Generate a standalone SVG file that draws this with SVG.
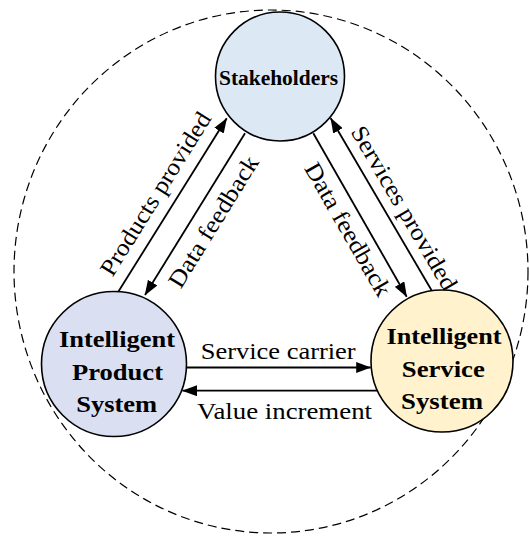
<svg xmlns="http://www.w3.org/2000/svg" width="530" height="536" viewBox="0 0 530 536">
  <style>
    .node { stroke: #000; stroke-width: 1.6; }
    .ntext { font-family: "Liberation Serif", "Times New Roman", serif; font-weight: bold; font-size: 24px; fill: #000; text-anchor: middle; }
    .ltext { font-family: "Liberation Serif", "Times New Roman", serif; font-size: 24px; fill: #000; text-anchor: middle; }
    .conn { stroke: #000; stroke-width: 1.8; fill: none; marker-end: url(#arrow); }
  </style>
  <defs>
    <marker id="arrow" markerUnits="userSpaceOnUse" markerWidth="15" markerHeight="11" refX="14.5" refY="5.5" orient="auto">
      <path d="M0,0 L15,5.5 L0,11 z" fill="#000"/>
    </marker>
  </defs>
  <rect width="530" height="536" fill="#fff"/>
  <ellipse id="boundary" cx="271" cy="271.5" rx="257" ry="261.5" fill="none" stroke="#000" stroke-width="1.2" stroke-dasharray="9 5"/>

  <g id="connectors">
    <path class="conn" d="M118.3,291.7 L226.7,118.3"/>
    <path class="conn" d="M245,133.3 L145,295"/>
    <path class="conn" d="M313.3,133.3 L406.7,296.7"/>
    <path class="conn" d="M433.3,293.3 L330.7,118.3"/>
    <path class="conn" d="M186,367.5 L370.7,367.5"/>
    <path class="conn" d="M377,390.7 L182.5,390.7"/>
    <text class="ltext" x="162.3" y="198" textLength="188" lengthAdjust="spacingAndGlyphs" transform="rotate(-58 162.3 198)">Products provided</text>
    <text class="ltext" x="220.1" y="225.9" textLength="150" lengthAdjust="spacingAndGlyphs" transform="rotate(-58.3 220.1 225.9)">Data feedback</text>
    <text class="ltext" x="341.1" y="233.3" textLength="150" lengthAdjust="spacingAndGlyphs" transform="rotate(60.2 341.1 233.3)">Data feedback</text>
    <text class="ltext" x="397.4" y="212.1" textLength="186" lengthAdjust="spacingAndGlyphs" transform="rotate(59.6 397.4 212.1)">Services provided</text>
    <text class="ltext" x="278.2" y="359" textLength="155" lengthAdjust="spacingAndGlyphs">Service carrier</text>
    <text class="ltext" x="284.5" y="418.5" textLength="175" lengthAdjust="spacingAndGlyphs">Value increment</text>
  </g>

  <g id="stakeholders">
    <circle class="node" cx="280" cy="76.5" r="64.5" fill="#dce9f5"/>
    <text class="ntext" x="278.5" y="85" font-size="20" style="font-size:20px" textLength="119" lengthAdjust="spacingAndGlyphs">Stakeholders</text>
  </g>

  <g id="product-system">
    <circle class="node" cx="114" cy="364" r="72.5" fill="#dae0f2"/>
    <text class="ntext" x="117" y="347" textLength="116" lengthAdjust="spacingAndGlyphs">Intelligent</text>
    <text class="ntext" x="117.5" y="380" textLength="91" lengthAdjust="spacingAndGlyphs">Product</text>
    <text class="ntext" x="116.7" y="412" textLength="81" lengthAdjust="spacingAndGlyphs">System</text>
  </g>

  <g id="service-system">
    <circle class="node" cx="442" cy="361" r="71" fill="#fff2cc"/>
    <text class="ntext" x="444" y="344.3" textLength="115" lengthAdjust="spacingAndGlyphs">Intelligent</text>
    <text class="ntext" x="443.3" y="376.7" textLength="83" lengthAdjust="spacingAndGlyphs">Service</text>
    <text class="ntext" x="442" y="409" textLength="82" lengthAdjust="spacingAndGlyphs">System</text>
  </g>
</svg>
